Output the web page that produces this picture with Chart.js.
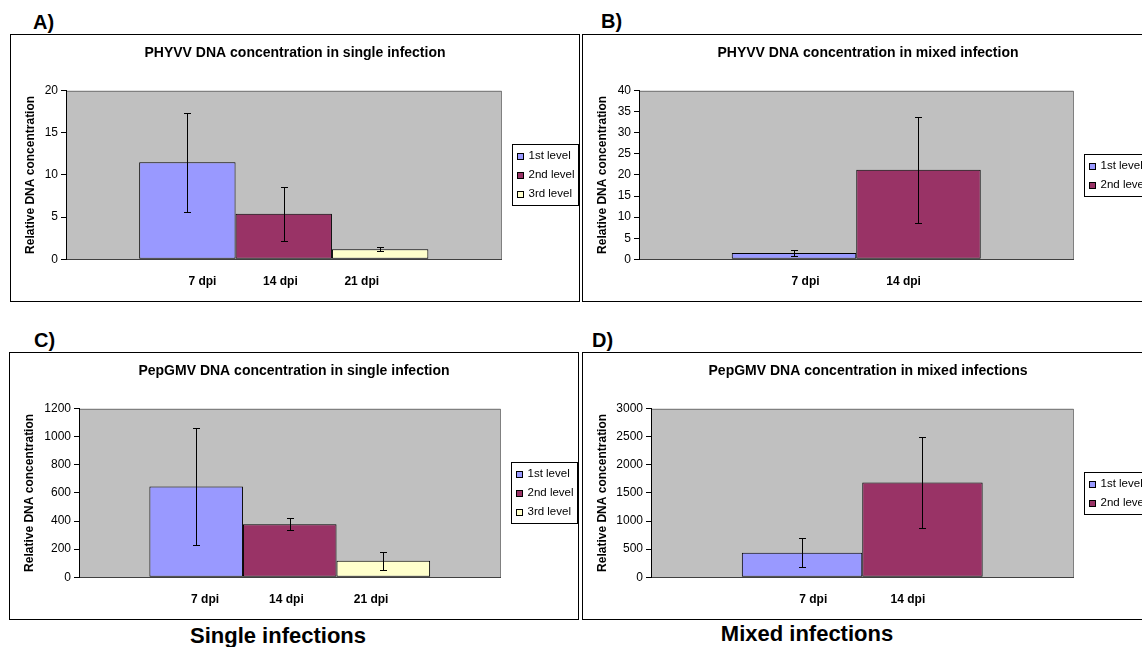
<!DOCTYPE html>
<html>
<head>
<meta charset="utf-8">
<script src="https://cdn.jsdelivr.net/npm/chart.js@4.4.0/dist/chart.umd.min.js"></script>
<style>
    body { margin: 0; width: 1142px; height: 647px; overflow: hidden; background: #fff; position: relative;
           font-family: Arial, "Liberation Sans", sans-serif; color: #000; }
    .panel { position: absolute; border: 1px solid #000; box-sizing: border-box; background: #fff; }
    .panel canvas { position: absolute; left: 0; top: 0; }
    .tag { position: absolute; font-weight: bold; font-size: 20px; line-height: 20px; }
    .caption { position: absolute; width: 300px; text-align: center; font-weight: bold; font-size: 22px; line-height: 22px; }
</style>
</head>
<body>

<div class="tag" style="left:33px; top:12px;">A)</div>
<div class="tag" style="left:601px; top:11px;">B)</div>
<div class="tag" style="left:34px; top:330px;">C)</div>
<div class="tag" style="left:592px; top:330px;">D)</div>

<div class="panel" style="left:10px; top:34px; width:570px; height:268px;"><canvas id="chartA" width="568" height="266"></canvas></div>
<div class="panel" style="left:582px; top:34px; width:572px; height:268px;"><canvas id="chartB" width="570" height="266"></canvas></div>
<div class="panel" style="left:9px; top:352px; width:570px; height:268px;"><canvas id="chartC" width="568" height="266"></canvas></div>
<div class="panel" style="left:582px; top:352px; width:572px; height:268px;"><canvas id="chartD" width="570" height="266"></canvas></div>

<div class="caption" style="left:128px; top:625px;">Single infections</div>
<div class="caption" style="left:657px; top:623px;">Mixed infections</div>

<script>
// Datos
const levelsSingle = ['1st level', '2nd level', '3rd level'];
const levelsMixed = ['1st level', '2nd level'];
const dpiSingle = ['7 dpi', '14 dpi', '21 dpi'];
const dpiMixed = ['7 dpi', '14 dpi'];
const levelColors = ['#9999FF', '#993366', '#FFFFCC'];

// A) PHYVV, infeccion simple
const phyvvSingle = [11.5, 5.4, 1.2];
const phyvvSingleErr = [5.85, 3.2, 0.2];
// B) PHYVV, infeccion mixta
const phyvvMixed = [1.5, 21.2];
const phyvvMixedErr = [0.6, 12.6];
// C) PepGMV, infeccion simple
const pepgmvSingle = [645, 378, 118];
const pepgmvSingleErr = [418, 41, 64];
// D) PepGMV, infeccion mixta
const pepgmvMixed = [435, 1685];
const pepgmvMixedErr = [260, 800];

const FONT = 'Arial, "Liberation Sans", sans-serif';
Chart.defaults.font.family = FONT;
Chart.defaults.color = '#000';

// fondo gris del area de trazado
const plotBackground = {
    id: 'plotBackground',
    beforeDraw(chart) {
        const { ctx, chartArea: a } = chart;
        ctx.save();
        ctx.fillStyle = '#C0C0C0';
        ctx.fillRect(a.left, a.top, a.right - a.left, a.bottom - a.top);
        ctx.strokeStyle = '#808080';
        ctx.lineWidth = 1;
        ctx.strokeRect(Math.round(a.left) + 0.5, Math.round(a.top) + 0.5,
                       Math.round(a.right - a.left) - 1, Math.round(a.bottom - a.top) - 1);
        ctx.restore();
    }
};

// barras de error (dataset.errors)
const errorBars = {
    id: 'errorBars',
    afterDatasetsDraw(chart) {
        const { ctx } = chart;
        const y = chart.scales.y;
        ctx.save();
        ctx.strokeStyle = '#000';
        ctx.lineWidth = 1;
        chart.data.datasets.forEach((ds, i) => {
            chart.getDatasetMeta(i).data.forEach((bar, j) => {
                const v = ds.data[j];
                const e = ds.errors[j];
                const x = Math.round(bar.x) + 0.5;
                const top = Math.round(y.getPixelForValue(v + e)) + 0.5;
                const bot = Math.round(y.getPixelForValue(v - e)) + 0.5;
                ctx.beginPath();
                ctx.moveTo(x, top); ctx.lineTo(x, bot);
                ctx.moveTo(x - 3.5, top); ctx.lineTo(x + 3.5, top);
                ctx.moveTo(x - 3.5, bot); ctx.lineTo(x + 3.5, bot);
                ctx.stroke();
            });
        });
        ctx.restore();
    }
};

// leyenda con marco, a la derecha del area de trazado
const boxLegend = {
    id: 'boxLegend',
    afterDraw(chart) {
        const { ctx, chartArea: a } = chart;
        const sets = chart.data.datasets;
        const rowH = 19.3;
        const w = 66;
        const h = Math.round(sets.length * rowH + 3);
        const left = Math.round(a.right + 10) + 0.5;
        const top = Math.round((a.top + a.bottom) / 2 - h / 2) + 0.5;
        ctx.save();
        ctx.lineWidth = 1;
        ctx.fillStyle = '#fff';
        ctx.fillRect(left, top, w, h);
        ctx.strokeStyle = '#000';
        ctx.strokeRect(left, top, w, h);
        ctx.font = '11.5px ' + FONT;
        ctx.textBaseline = 'middle';
        sets.forEach((ds, i) => {
            const cy = top + 1.5 + rowH * (i + 0.5);
            const sy = Math.round(cy - 3) + 0.5;
            ctx.fillStyle = ds.backgroundColor;
            ctx.fillRect(left + 5, sy, 6, 6);
            ctx.strokeRect(left + 5, sy, 6, 6);
            ctx.fillStyle = '#000';
            ctx.fillText(ds.label, left + 16, cy);
        });
        ctx.restore();
    }
};

function makePanel(id, cfg) {
    const canvas = document.getElementById(id);
    return new Chart(canvas, {
        type: 'bar',
        data: {
            // una sola categoria: Excel pone las etiquetas como un texto
            labels: [cfg.dpi.join(' '.repeat(cfg.gap))],
            datasets: cfg.levels.map((lv, i) => ({
                label: lv,
                data: [cfg.values[i]],
                errors: [cfg.errors[i]],
                backgroundColor: levelColors[i],
                borderColor: '#000',
                borderWidth: 1,
                borderSkipped: false,
                barPercentage: 1,
                categoryPercentage: cfg.catPct
            }))
        },
        options: {
            responsive: false,
            animation: false,
            devicePixelRatio: 1,
            plugins: {
                legend: { display: false },
                tooltip: { enabled: false },
                title: {
                    display: true,
                    text: cfg.title,
                    color: '#000',
                    font: { size: 14, weight: 'bold' },
                    padding: { top: 10, bottom: 28.7 }
                }
            },
            scales: {
                x: {
                    grid: { display: false },
                    border: { color: '#404040' },
                    ticks: { font: { size: 12, weight: 'bold' }, padding: 7.5, maxRotation: 0, autoSkip: false },
                    afterFit: s => { s.height = 41.7; }
                },
                y: {
                    min: 0,
                    max: cfg.yMax,
                    ticks: { stepSize: cfg.yStep, font: { size: 12 }, padding: 3, format: { useGrouping: false } },
                    grid: { drawOnChartArea: false, tickLength: 5, color: '#000' },
                    border: { color: '#000' },
                    title: {
                        display: true,
                        text: 'Relative DNA concentration',
                        font: { size: 12, weight: 'bold' },
                        padding: { top: 12.8, bottom: 0 }
                    },
                    afterFit: s => { s.width = cfg.plotLeft; }
                },
                // eje vacio: reserva el hueco de la leyenda sin mover el titulo
                legendSpace: {
                    type: 'linear',
                    position: 'right',
                    grid: { display: false },
                    border: { display: false },
                    ticks: { display: false },
                    afterFit: s => { s.width = canvas.width - 490.5; }
                }
            }
        },
        plugins: [plotBackground, errorBars, boxLegend]
    });
}

makePanel('chartA', {
    title: 'PHYVV DNA concentration in single infection',
    levels: levelsSingle, dpi: dpiSingle, gap: 14,
    values: phyvvSingle, errors: phyvvSingleErr,
    yMax: 20, yStep: 5, catPct: 0.664, plotLeft: 55
});
makePanel('chartB', {
    title: 'PHYVV DNA concentration in mixed infection',
    levels: levelsMixed, dpi: dpiMixed, gap: 20,
    values: phyvvMixed, errors: phyvvMixedErr,
    yMax: 40, yStep: 5, catPct: 0.573, plotLeft: 56
});
makePanel('chartC', {
    title: 'PepGMV DNA concentration in single infection',
    levels: levelsSingle, dpi: dpiSingle, gap: 15,
    values: pepgmvSingle, errors: pepgmvSingleErr,
    yMax: 1200, yStep: 200, catPct: 0.666, plotLeft: 69
});
makePanel('chartD', {
    title: 'PepGMV DNA concentration in mixed infections',
    levels: levelsMixed, dpi: dpiMixed, gap: 19,
    values: pepgmvMixed, errors: pepgmvMixedErr,
    yMax: 3000, yStep: 500, catPct: 0.570, plotLeft: 68
});
</script>
</body>
</html>
